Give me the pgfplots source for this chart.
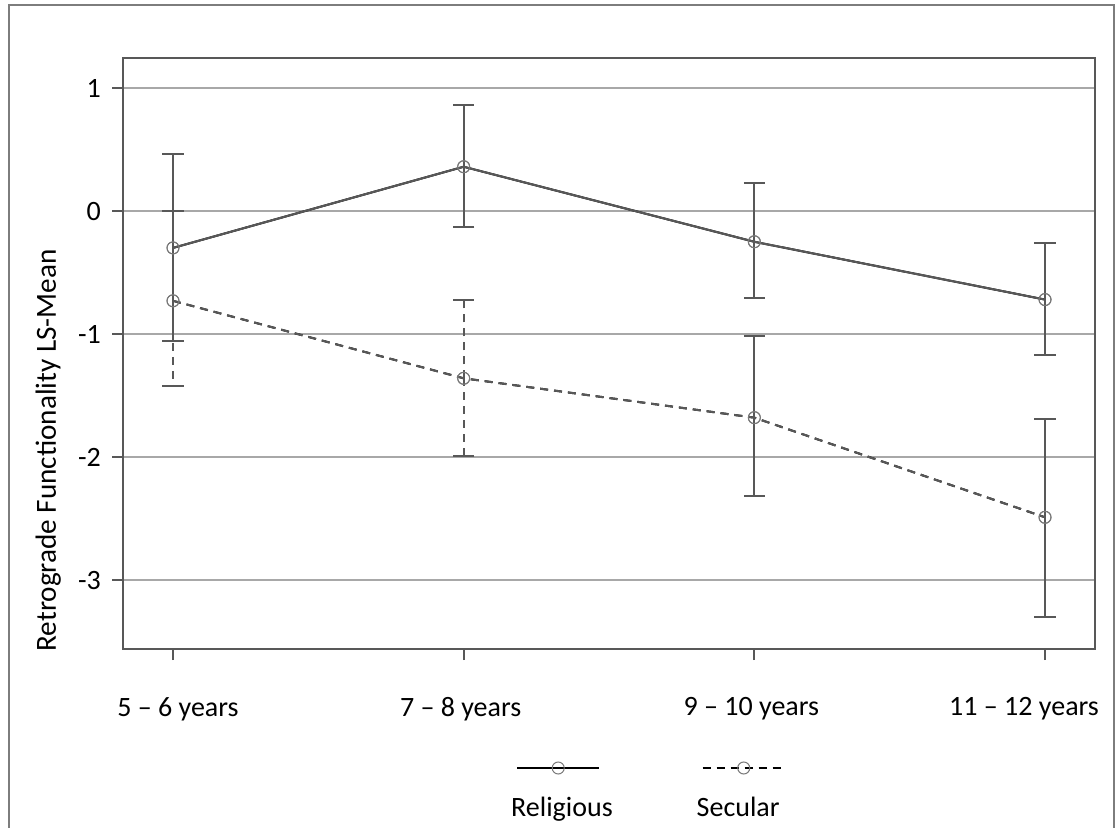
\documentclass[border=0pt]{standalone}
\usepackage{fontspec}
\setmainfont{Carlito}
\usepackage{pgfplots}
\pgfplotsset{compat=1.18}
\definecolor{lc}{RGB}{88,88,88}
\definecolor{gc}{RGB}{168,168,168}
\definecolor{mc}{RGB}{120,120,120}
\definecolor{fc}{RGB}{125,125,125}
\begin{document}
\begin{tikzpicture}
\useasboundingbox (0,0) rectangle (558.5pt,-413.5pt);
\draw[draw=fc, line width=1pt] (4.5pt,-2.5pt) rectangle (557pt,-440pt);
\begin{axis}[
  at={(61.5pt,-324.5pt)}, anchor=south west,
  scale only axis, width=486pt, height=295.5pt,
  xmin=-0.172, xmax=3.172, ymin=-3.561, ymax=1.244,
  axis line style={draw=lc, line width=1pt},
  xtick={0,1,2,3},
  xticklabels={5 – 6 years\hspace*{-5pt}, \hspace*{-3pt}7 – 8 years, \hspace*{-3pt}9 – 10 years, \hspace*{-21pt}11 – 12 years},
  ytick={-3,-2,-1,0,1},
  yticklabels={-3,-2,-1,0,1},
  xtick pos=bottom, ytick pos=left,
  tick align=outside, major tick length=5.5pt,
  tick style={draw=lc, line width=1pt},
  ymajorgrids, grid style={draw=gc, line width=0.8pt},
  tick label style={font=\fontsize{14}{16}\selectfont, text=black},
  xticklabel style={yshift=-15pt},
  yticklabel style={xshift=-2pt},
  ylabel={Retrograde Functionality LS-Mean},
  ylabel style={at={(axis description cs:-0.077,0.336)}, anchor=center, font=\fontsize{14.6}{16}\selectfont},
  legend columns=2,
  legend style={at={(axis description cs:0.3105,-0.269)}, anchor=west, draw=none, fill=none,
    font=\fontsize{14}{16}\selectfont,
    /tikz/every odd column/.append style={column sep=38pt}},
  legend image code/.code={%
    \draw[overlay, mark repeat=2, mark phase=2, #1] plot coordinates {(43pt,20pt)(63.5pt,20pt)(84pt,20pt)};
  },
]
\addplot[black, line width=1pt, mark=o, mark size=3pt,
  mark options={draw=mc, line width=0.5pt, fill=none, solid},
  error bars/.cd, y dir=both, y explicit,
  error bar style={lc, line width=1pt, solid},
  error mark options={lc, line width=1pt, mark size=5.3pt, rotate=90, solid}]
coordinates {
  (0,-0.30) += (0,0.76) -= (0,0.76)
  (1,0.36) += (0,0.50) -= (0,0.49)
  (2,-0.25) += (0,0.48) -= (0,0.46)
  (3,-0.72) += (0,0.46) -= (0,0.45)
};
\addlegendentry{Religious}
\addplot[black, line width=1pt, dash pattern=on 4pt off 3pt, mark=o, mark size=3pt,
  mark options={draw=mc, line width=0.5pt, fill=none, solid}]
coordinates {
  (0,-0.73)
  (1,-1.36)
  (2,-1.68)
  (3,-2.49)
};
\addlegendentry{Secular}
% secular error bars: dashed at the first two ages, solid at the last two
\addplot[forget plot, draw=none, mark=none,
  error bars/.cd, y dir=both, y explicit,
  error bar style={lc, line width=1pt, dash pattern=on 4pt off 3pt},
  error mark options={lc, line width=1pt, mark size=5.3pt, rotate=90, solid}]
coordinates {
  (0,-0.73) += (0,0.73) -= (0,0.69)
  (1,-1.36) += (0,0.64) -= (0,0.63)
};
\addplot[forget plot, draw=none, mark=none,
  error bars/.cd, y dir=both, y explicit,
  error bar style={lc, line width=1pt, solid},
  error mark options={lc, line width=1pt, mark size=5.3pt, rotate=90, solid}]
coordinates {
  (2,-1.68) += (0,0.66) -= (0,0.64)
  (3,-2.49) += (0,0.80) -= (0,0.81)
};
% plotted lines in grey over the black legend-styled ones
\addplot[forget plot, lc, line width=1pt, mark=o, mark size=3pt,
  mark options={draw=mc, line width=0.5pt, fill=none, solid}]
coordinates {(0,-0.30) (1,0.36) (2,-0.25) (3,-0.72)};
\addplot[forget plot, lc, line width=1pt, dash pattern=on 4pt off 3pt, mark=o, mark size=3pt,
  mark options={draw=mc, line width=0.5pt, fill=none, solid}]
coordinates {(0,-0.73) (1,-1.36) (2,-1.68) (3,-2.49)};
\end{axis}
\end{tikzpicture}
\end{document}
